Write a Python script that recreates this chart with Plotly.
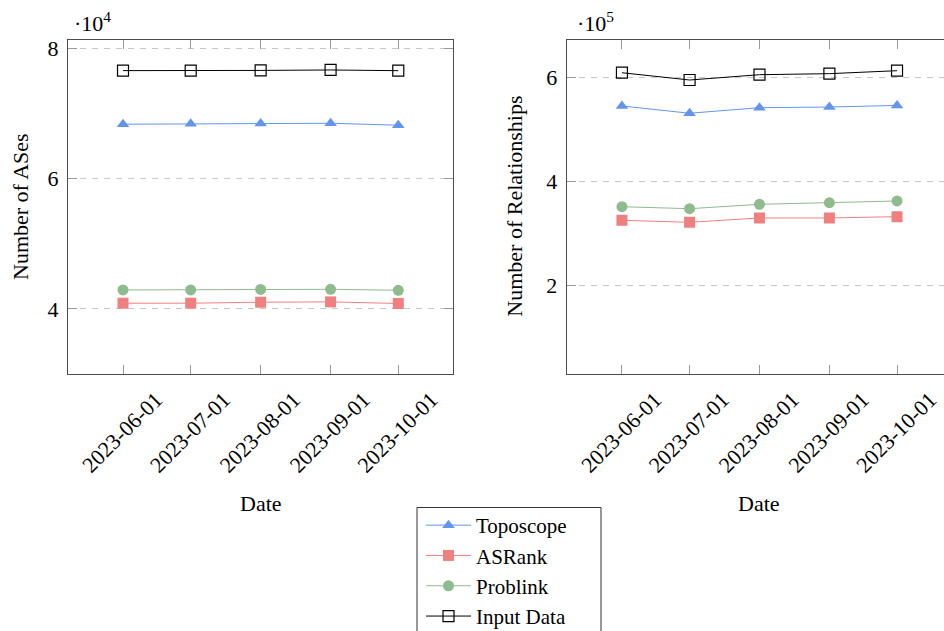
import plotly.graph_objects as go

# ---------------- data ----------------
dates = ["2023-06-01", "2023-07-01", "2023-08-01", "2023-09-01", "2023-10-01"]
date_labels = ["2023-06-01", "2023-07-01", "2023-08-01", "2023-09-01", "2023-10-01"]
series_names = ["Toposcope", "ASRank", "Problink", "Input Data"]

# Number of ASes (left panel)
ases_toposcope = [68340, 68400, 68450, 68490, 68190]
ases_asrank = [40870, 40870, 41020, 41070, 40820]
ases_problink = [42900, 42900, 42990, 43000, 42850]
ases_input = [76570, 76560, 76600, 76670, 76560]

# Number of Relationships (right panel)
rel_toposcope = [545000, 531000, 541700, 543000, 546000]
rel_asrank = [325500, 321700, 330000, 330000, 332500]
rel_problink = [351600, 347800, 356200, 359300, 362600]
rel_input = [608800, 594800, 605000, 607000, 612700]

ases_ticks = [40000, 60000, 80000]
ases_ticktext = ["4", "6", "8"]
rel_ticks = [200000, 400000, 600000]
rel_ticktext = ["2", "4", "6"]

# ---------------- styles ----------------
FONT = "Liberation Serif"
styles = {
    "Toposcope": dict(color="#6495ED", symbol="triangle-up", size=11),
    "ASRank": dict(color="#F08080", symbol="square", size=11),
    "Problink": dict(color="#8FBC8F", symbol="circle", size=11),
    "Input Data": dict(color="#000000", symbol="square-open", size=11),
}

panels = [
    ("x", "y", [ases_toposcope, ases_asrank, ases_problink, ases_input]),
    ("x2", "y2", [rel_toposcope, rel_asrank, rel_problink, rel_input]),
]

fig = go.Figure()
for pi, (xa, ya, values) in enumerate(panels):
    for name, vals in zip(series_names, values):
        st = styles[name]
        mline = dict(width=1.2, color=st["color"]) if name == "Input Data" else dict(width=0)
        fig.add_trace(go.Scatter(
            x=dates, y=vals, name=name, mode="lines+markers",
            xaxis=xa, yaxis=ya, showlegend=(pi == 0),
            line=dict(color=st["color"], width=1),
            marker=dict(symbol=st["symbol"], size=st["size"], color=st["color"], line=mline),
        ))

W, H = 944, 631
AXC = "#4d4d4d"
TICKC = "#9a9a9a"

def px_x(p):
    return p / W

def px_y(p):
    return 1 - p / H

xcommon = dict(
    type="date", showline=True, linecolor=AXC, linewidth=1.3,
    ticks="inside", ticklen=9, tickcolor=TICKC, tickwidth=1.3,
    tickvals=dates, ticktext=date_labels, tickangle=-45,
    tickfont=dict(family=FONT, size=22, color="black"),
    showgrid=False, zeroline=False,
    ticklabelshift=33, ticklabelstandoff=3, ticklabeloverflow="allow",
)
ycommon = dict(
    showline=True, linecolor=AXC, linewidth=1.3,
    ticks="inside", ticklen=9, tickcolor=TICKC, tickwidth=1.3,
    tickfont=dict(family=FONT, size=22, color="black"),
    showgrid=True, gridcolor="#c8c8c8", gridwidth=1, griddash="6px,6px",
    zeroline=False, ticklabelstandoff=4,
)

ydom = [px_y(374), px_y(40)]

fig.update_layout(
    width=W, height=H, autosize=False,
    margin=dict(l=0, r=0, t=0, b=0, pad=0, autoexpand=False),
    paper_bgcolor="white", plot_bgcolor="white",
    font=dict(family=FONT, size=21, color="black"),
    xaxis=dict(xcommon, domain=[px_x(68), px_x(453)], anchor="y", mirror="ticks",
               range=["2023-05-07 15:00", "2023-10-25 06:00"]),
    yaxis=dict(ycommon, domain=ydom, anchor="x", mirror="ticks",
               range=[30000, 81270], tickvals=ases_ticks, ticktext=ases_ticktext),
    xaxis2=dict(xcommon, domain=[px_x(566.7), 1.0], anchor="y2", mirror="ticks",
                range=["2023-05-07 12:00", "2023-10-21 20:00"]),
    yaxis2=dict(ycommon, domain=ydom, anchor="x2", mirror=False,
                range=[30500, 671600], tickvals=rel_ticks, ticktext=rel_ticktext),
    legend=dict(
        x=px_x(421), xanchor="left", y=px_y(505), yanchor="top",
        borderwidth=0, bgcolor="rgba(0,0,0,0)",
        font=dict(family=FONT, size=21, color="black"),
        itemwidth=45, tracegroupgap=0,
    ),
    showlegend=True,
    shapes=[dict(
        type="rect", xref="paper", yref="paper",
        x0=px_x(417), x1=px_x(601), y0=px_y(645), y1=px_y(507.5),
        line=dict(color="#333333", width=1), fillcolor="white", layer="above",
    )],
)

annots = [
    dict(text="Number of ASes", x=px_x(20), y=px_y(207), textangle=-90, size=22),
    dict(text="Number of Relationships", x=px_x(515), y=px_y(206.7), textangle=-90, size=22),
    dict(text="Date", x=px_x(260.5), y=px_y(503), textangle=0, size=22),
    dict(text="Date", x=px_x(759), y=px_y(503), textangle=0, size=22),
    dict(text="·10<sup>4</sup>", x=px_x(92), y=px_y(22), textangle=0, size=22),
    dict(text="·10<sup>5</sup>", x=px_x(595), y=px_y(22), textangle=0, size=22),
]
for a in annots:
    fig.add_annotation(
        text=a["text"], x=a["x"], y=a["y"], xref="paper", yref="paper",
        xanchor="center", yanchor="middle", textangle=a["textangle"],
        showarrow=False, font=dict(family=FONT, size=a["size"], color="black"),
    )

fig.write_html("out.html")
